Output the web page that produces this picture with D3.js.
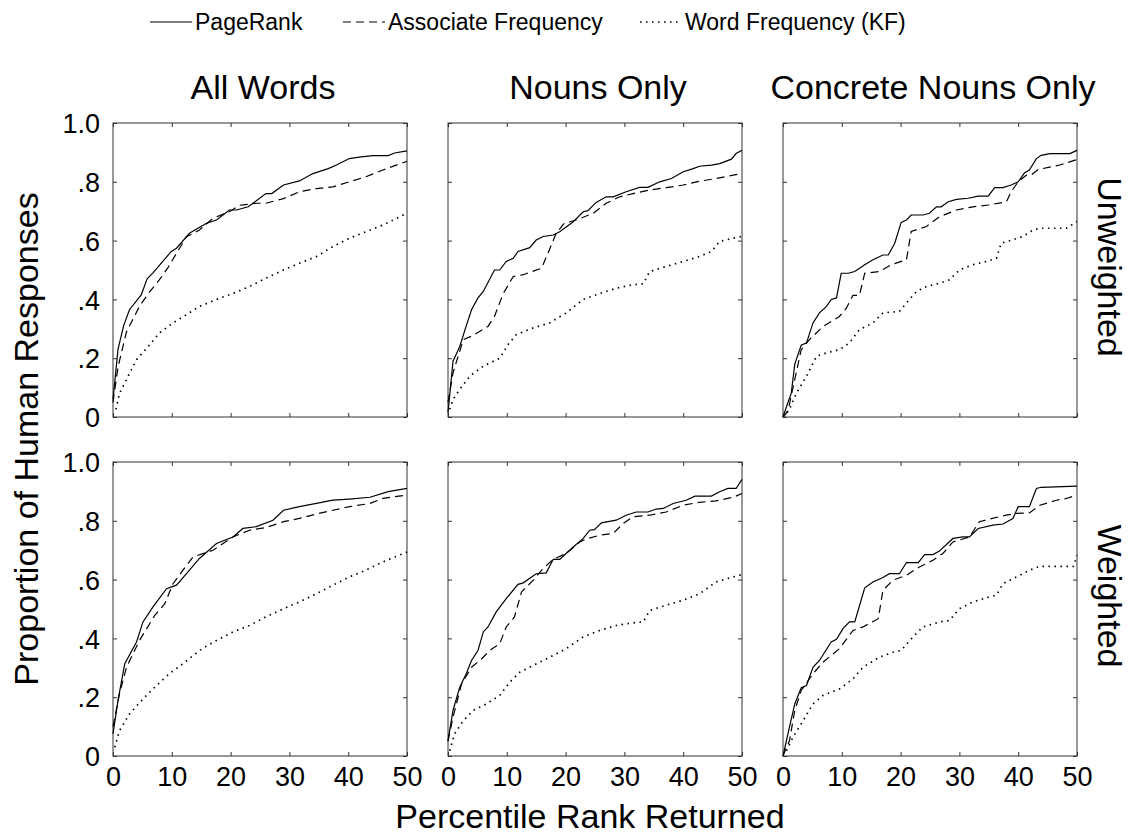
<!DOCTYPE html>
<html>
<head>
<meta charset="utf-8">
<script src="https://cdn.jsdelivr.net/npm/d3@7"></script>
<style>
  body { margin: 0; background: #fff; }
  svg text { font-family: "Liberation Sans", Arial, Helvetica, sans-serif; fill: #000; }
  .box { fill: none; stroke: #333; stroke-width: 1; }
  .tick line { stroke: #333; }
  .domain { display: none; }
</style>
</head>
<body>
<svg width="1134" height="840"></svg>
<script>
// series names and panel labels
const seriesNames = ['PageRank', 'Associate Frequency', 'Word Frequency (KF)'];
const colTitles = ['All Words', 'Nouns Only', 'Concrete Nouns Only'];
const rowTitles = ['Unweighted', 'Weighted'];
const xTicks = [0, 10, 20, 30, 40, 50];
const yTicks = [0, 0.2, 0.4, 0.6, 0.8, 1.0];
const yTickLabels = ['0', '.2', '.4', '.6', '.8', '1.0'];

// [percentile rank, proportion]
// unweighted row
const allUnwPR = [[0,0.06],[0.85,0.23],[1.8,0.31],[2.8,0.365],[4.8,0.415],[5.8,0.47],[6.8,0.49],[9.9,0.563],[10.8,0.574],[13,0.625],[15.9,0.659],[17.6,0.67],[19.8,0.704],[21,0.704],[23,0.715],[26,0.76],[27,0.76],[29,0.789],[31.7,0.803],[34,0.828],[36.6,0.845],[38,0.857],[40.2,0.879],[42.2,0.885],[44.2,0.889],[46.8,0.889],[47.9,0.898],[50,0.905]];
const allUnwAF = [[0,0.05],[0.85,0.17],[2.3,0.29],[4.5,0.376],[6,0.42],[7.9,0.467],[9.4,0.51],[10.8,0.557],[12.5,0.613],[14.7,0.636],[17,0.676],[19.8,0.698],[21.5,0.72],[24.4,0.727],[26,0.727],[29,0.743],[31.7,0.766],[34.6,0.777],[37.4,0.783],[40.2,0.8],[43,0.817],[45.9,0.84],[50,0.87]];
const allUnwWF = [[0.5,0.026],[1.1,0.08],[2.3,0.128],[4,0.195],[6,0.24],[7.9,0.286],[10.2,0.32],[12.5,0.348],[14.7,0.376],[17.6,0.4],[20.4,0.42],[23.2,0.444],[26,0.472],[29,0.5],[31.7,0.523],[34.6,0.546],[37.4,0.58],[40.2,0.608],[43,0.63],[45.9,0.653],[50,0.693]];

const nounUnwPR = [[0,0.015],[0.85,0.19],[2,0.24],[3.1,0.31],[4,0.365],[5.1,0.405],[6,0.427],[7.9,0.5],[8.8,0.5],[9.9,0.529],[11.1,0.54],[11.9,0.563],[13.9,0.576],[15,0.602],[16.2,0.614],[17.9,0.619],[19,0.63],[21.3,0.664],[23,0.698],[23.8,0.702],[25.2,0.73],[26.9,0.749],[28.1,0.749],[30.3,0.766],[32.6,0.781],[34,0.781],[36,0.8],[38,0.811],[40,0.834],[41.7,0.845],[42.8,0.853],[44.8,0.857],[46.2,0.862],[48.2,0.877],[49,0.896],[50,0.907]];
const nounUnwAF = [[0,0.05],[0.85,0.15],[2.6,0.263],[4,0.275],[6.8,0.308],[7.9,0.342],[9.4,0.42],[11.1,0.478],[12.8,0.484],[15.9,0.506],[17,0.557],[18.4,0.625],[19.8,0.659],[21.8,0.67],[24.7,0.693],[26.9,0.727],[29.2,0.749],[31.5,0.76],[34.3,0.772],[37.1,0.78],[40,0.789],[42.8,0.802],[45.6,0.811],[48.5,0.823],[50,0.828]];
const nounUnwWF = [[0.3,0.026],[0.85,0.06],[2,0.094],[3.7,0.139],[6,0.173],[8.8,0.2],[10.2,0.246],[11.6,0.28],[14.5,0.303],[17.3,0.32],[20.1,0.354],[23,0.4],[25.8,0.42],[28.6,0.438],[31.5,0.45],[33.2,0.453],[34.3,0.495],[37.1,0.512],[40,0.529],[42.8,0.546],[44.8,0.563],[46.2,0.597],[48.5,0.608],[50,0.614]];

const concUnwPR = [[0,0],[0.85,0.05],[1.4,0.08],[2,0.18],[3.1,0.244],[4,0.252],[5.1,0.32],[6.2,0.354],[7.4,0.376],[8.2,0.4],[9.1,0.405],[9.9,0.489],[11.1,0.489],[12.2,0.495],[13.9,0.518],[15.3,0.535],[17,0.551],[17.9,0.551],[19,0.591],[20.1,0.662],[21,0.67],[21.8,0.687],[23.8,0.687],[24.9,0.693],[26.1,0.715],[26.9,0.715],[28.1,0.732],[29.5,0.74],[31.5,0.744],[33.2,0.751],[34.9,0.751],[36,0.78],[37.4,0.78],[38.8,0.789],[40,0.8],[41.1,0.831],[41.9,0.84],[43.1,0.879],[43.9,0.89],[45.4,0.896],[48.8,0.896],[50,0.907]];
const concUnwAF = [[0,0],[0.85,0.02],[2,0.128],[3.1,0.229],[4.5,0.263],[6.8,0.308],[9.6,0.342],[10.8,0.371],[11.9,0.414],[13,0.414],[13.9,0.489],[16.4,0.495],[18.4,0.518],[21,0.535],[21.8,0.631],[24.4,0.648],[26.6,0.681],[29.5,0.704],[32.3,0.715],[34.9,0.721],[38,0.732],[38.8,0.766],[40,0.8],[41.4,0.823],[42.2,0.823],[43.4,0.842],[47.1,0.857],[50,0.876]];
const concUnwWF = [[0,0],[1.1,0.026],[2.3,0.082],[4,0.139],[5.7,0.207],[7.4,0.218],[9.6,0.229],[11.3,0.252],[13,0.297],[15.3,0.32],[17,0.354],[19.8,0.359],[21,0.388],[22.7,0.427],[24.4,0.444],[26.6,0.455],[28.3,0.467],[30,0.5],[32.3,0.518],[34.6,0.529],[36.3,0.54],[37.1,0.591],[39.1,0.603],[40.8,0.614],[42.5,0.636],[43.7,0.642],[48.2,0.642],[50,0.665]];

// weighted row
const allWPR = [[0,0.075],[0.85,0.189],[2,0.314],[4,0.388],[5.1,0.456],[6.8,0.507],[9.1,0.569],[10.8,0.581],[12.5,0.62],[14.7,0.672],[17.6,0.723],[20.4,0.745],[22.1,0.774],[24.4,0.78],[27.2,0.802],[29,0.836],[31.7,0.848],[34.6,0.859],[37.4,0.87],[40.2,0.874],[43.7,0.88],[46.8,0.899],[50,0.91]];
const allWAF = [[0,0.1],[1.1,0.211],[2.3,0.302],[4.5,0.393],[7.1,0.478],[8.8,0.518],[10.2,0.586],[11.9,0.632],[13.6,0.677],[17,0.7],[20.4,0.745],[23.2,0.768],[26,0.777],[29,0.797],[31.7,0.808],[34.6,0.823],[37.4,0.836],[40.2,0.848],[43.7,0.859],[45.9,0.876],[50,0.888]];
const allWWF = [[0.3,0.03],[1.1,0.086],[2.8,0.143],[5.1,0.194],[7.4,0.24],[9.6,0.28],[11.9,0.314],[14.7,0.359],[17.6,0.393],[20.4,0.422],[23.2,0.444],[26,0.473],[29,0.501],[31.7,0.524],[34.6,0.552],[37.4,0.581],[40.2,0.609],[43,0.632],[45.9,0.66],[50,0.694]];

const nounWPR = [[0,0.052],[0.85,0.155],[2,0.234],[3.1,0.28],[4,0.325],[5.1,0.359],[6,0.422],[6.8,0.439],[8.2,0.49],[9.9,0.535],[11.9,0.584],[12.8,0.589],[15,0.62],[16.7,0.623],[17.9,0.669],[19,0.669],[21.3,0.711],[23,0.74],[24.1,0.768],[24.9,0.77],[26.1,0.793],[28.6,0.802],[30.3,0.819],[32,0.83],[34,0.83],[35.4,0.84],[36.6,0.842],[38.3,0.859],[40.5,0.87],[42,0.884],[44.8,0.884],[46.2,0.899],[47.6,0.91],[49,0.91],[50,0.941]];
const nounWAF = [[0,0.05],[0.85,0.132],[2.3,0.245],[4,0.302],[5.7,0.33],[7.1,0.359],[8.8,0.382],[9.9,0.439],[11.3,0.473],[12.5,0.558],[14.5,0.598],[16.2,0.638],[17.9,0.669],[20.1,0.689],[22.4,0.728],[23.5,0.738],[25.8,0.751],[28.1,0.757],[29.8,0.791],[31.5,0.814],[34.3,0.819],[37.1,0.83],[40,0.853],[42.8,0.863],[45.6,0.868],[48.5,0.88],[50,0.893]];
const nounWWF = [[0.3,0.018],[1.1,0.075],[2.6,0.12],[4.3,0.155],[6.5,0.177],[8.8,0.206],[10.5,0.251],[12.2,0.285],[14.5,0.308],[17.3,0.336],[20.1,0.365],[23,0.405],[25.8,0.427],[28.6,0.444],[31.5,0.453],[33.2,0.456],[34.3,0.495],[37.1,0.513],[40,0.53],[42.8,0.552],[45.6,0.592],[48.5,0.609],[50,0.617]];

const concWPR = [[0,0],[1.1,0.098],[2,0.177],[3.1,0.232],[4,0.24],[5.1,0.302],[6.2,0.325],[8.2,0.388],[9.1,0.397],[10.2,0.433],[11.3,0.456],[12.2,0.456],[13.9,0.572],[15.3,0.592],[17,0.607],[18.1,0.62],[19.8,0.62],[21,0.658],[23,0.658],[24.1,0.685],[25.5,0.685],[26.6,0.697],[28.9,0.74],[30.6,0.745],[31.7,0.745],[33.2,0.774],[35.7,0.785],[37.4,0.789],[39.1,0.808],[40,0.848],[41.9,0.848],[43.1,0.91],[43.9,0.914],[50,0.918]];
const concWAF = [[0,0],[1.1,0.052],[2,0.155],[3.1,0.223],[5.1,0.28],[6.8,0.319],[9.6,0.365],[11.9,0.427],[13.6,0.439],[16.2,0.467],[17,0.564],[18.7,0.598],[21,0.615],[23.2,0.643],[25.5,0.666],[27.2,0.689],[28.9,0.728],[31.7,0.745],[33.4,0.797],[36.8,0.814],[38,0.819],[39.7,0.825],[41.9,0.827],[43.7,0.853],[46.5,0.87],[48.2,0.876],[50,0.888]];
const concWWF = [[0.6,0.018],[1.7,0.064],[3.4,0.12],[5.1,0.177],[6.8,0.206],[9.6,0.228],[11.9,0.262],[13.6,0.302],[16.4,0.336],[18.7,0.353],[20.1,0.359],[22.1,0.405],[23.8,0.439],[26.6,0.456],[28.3,0.461],[30,0.501],[32.3,0.524],[35.1,0.541],[36.3,0.547],[37.4,0.586],[39.7,0.609],[41.9,0.632],[43.7,0.645],[49.4,0.645],[50,0.683]];

const panelData = [
  [[allUnwPR, allUnwAF, allUnwWF], [nounUnwPR, nounUnwAF, nounUnwWF], [concUnwPR, concUnwAF, concUnwWF]],
  [[allWPR, allWAF, allWWF], [nounWPR, nounWAF, nounWWF], [concWPR, concWAF, concWWF]]
];

// layout
const svg = d3.select('svg');
const colX = [113, 448, 783];
const rowY = [123, 462];
const pw = 294, ph = 294;
const dashes = [null, '8,5', '1.5,4.5'];
const widths = [1.2, 1.2, 1.7];
const bigFont = 34, tickFont = 27, legendFont = 23;

const xScale = d3.scaleLinear().domain([0, 50]).range([0, pw]);
const yScale = d3.scaleLinear().domain([0, 1]).range([ph, 0]);
const line = d3.line().x(d => xScale(d[0])).y(d => yScale(d[1]));

panelData.forEach((row, r) => {
  row.forEach((series, c) => {
    const g = svg.append('g').attr('transform', `translate(${colX[c]}, ${rowY[r]})`);

    // inward ticks on all four sides
    const left = d3.axisLeft(yScale).tickValues(yTicks).tickSizeInner(-4).tickSizeOuter(0).tickPadding(13)
      .tickFormat((d, i) => c === 0 ? yTickLabels[i] : '');
    const right = d3.axisRight(yScale).tickValues(yTicks).tickSizeInner(-4).tickSizeOuter(0).tickFormat('');
    const bottom = d3.axisBottom(xScale).tickValues(xTicks).tickSizeInner(-4).tickSizeOuter(0).tickPadding(11)
      .tickFormat(d => r === 1 ? d : '');
    const top = d3.axisTop(xScale).tickValues(xTicks).tickSizeInner(-4).tickSizeOuter(0).tickFormat('');

    const ly = g.append('g').call(left);
    g.append('g').attr('transform', `translate(${pw},0)`).call(right);
    const bx = g.append('g').attr('transform', `translate(0,${ph})`).call(bottom);
    g.append('g').call(top);
    ly.selectAll('text').attr('dy', '0.36em').style('font-size', tickFont + 'px');
    bx.selectAll('text').style('font-size', tickFont + 'px');
    g.selectAll('.tick text').attr('fill', '#000').style('font-family', '"Liberation Sans", Arial, sans-serif');

    g.append('rect').attr('class', 'box').attr('width', pw).attr('height', ph);

    series.forEach((pts, s) => {
      g.append('path')
        .datum(pts)
        .attr('d', line)
        .attr('fill', 'none')
        .attr('stroke', '#000')
        .attr('stroke-width', widths[s])
        .attr('stroke-dasharray', dashes[s]);
    });
  });
});

// column titles
colTitles.forEach((t, c) => {
  svg.append('text')
    .attr('x', colX[c] + pw / 2 + 3)
    .attr('y', 99)
    .attr('text-anchor', 'middle')
    .style('font-size', bigFont + 'px')
    .text(t);
});

// row titles, rotated
const rowCenters = [267, 596];
rowTitles.forEach((t, r) => {
  svg.append('text')
    .attr('transform', `translate(1098, ${rowCenters[r]}) rotate(90)`)
    .attr('text-anchor', 'middle')
    .style('font-size', bigFont + 'px')
    .text(t);
});

// axis labels
svg.append('text')
  .attr('transform', `translate(38, 439) rotate(-90)`)
  .attr('text-anchor', 'middle')
  .style('font-size', '34px')
  .text('Proportion of Human Responses');

svg.append('text')
  .attr('x', 590)
  .attr('y', 828)
  .attr('text-anchor', 'middle')
  .style('font-size', '34px')
  .text('Percentile Rank Returned');

// legend
const legendX = [150, 343, 640];
const legend = svg.append('g');
seriesNames.forEach((name, s) => {
  legend.append('line')
    .attr('x1', legendX[s]).attr('x2', legendX[s] + 42)
    .attr('y1', 22).attr('y2', 22)
    .attr('stroke', '#000')
    .attr('stroke-width', widths[s])
    .attr('stroke-dasharray', dashes[s]);
  legend.append('text')
    .attr('x', legendX[s] + 45)
    .attr('y', 30)
    .style('font-size', legendFont + 'px')
    .text(name);
});
</script>
</body>
</html>
